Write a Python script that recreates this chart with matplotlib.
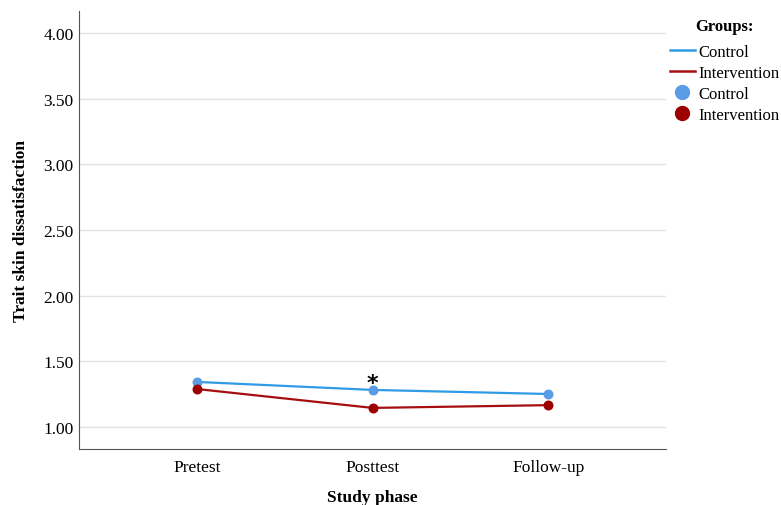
import matplotlib.pyplot as plt
from matplotlib.lines import Line2D

plt.rcParams['font.family'] = ['Liberation Serif', 'DejaVu Serif']

phases = ["Pretest", "Posttest", "Follow-up"]
control = [1.343, 1.282, 1.251]
intervention = [1.289, 1.145, 1.166]
yticks = [1.0, 1.5, 2.0, 2.5, 3.0, 3.5, 4.0]


def main():
    fig = plt.figure(figsize=(7.81, 5.06), dpi=100)
    ax = fig.add_axes([79 / 781, 1 - 450 / 506, 587 / 781, 438 / 506])

    x = list(range(len(phases)))
    ax.plot(x, control, "-", color="#2f9be6", linewidth=1.6, zorder=3)
    ax.plot(x, intervention, "-", color="#a50f0f", linewidth=1.6, zorder=3)
    ax.scatter(x, control, s=38, color="#5a9be6", zorder=4)
    ax.scatter(x, intervention, s=38, color="#9c0000", zorder=4)

    ax.text(1, control[1] + 0.055, "*", ha="center", va="center",
            fontsize=16, fontweight="bold", family="DejaVu Sans")

    ax.set_xlim(-0.67, 2.67)
    ax.set_ylim(0.832, 4.168)
    ax.set_xticks(x)
    ax.set_xticklabels(phases, fontsize=12.5)
    ax.set_yticks(yticks)
    ax.set_yticklabels([f"{v:.2f}" for v in yticks], fontsize=12.5)
    ax.tick_params(length=0, pad=4)
    ax.tick_params(axis="x", pad=7)
    ax.grid(axis="y", color="#e3e3e3", linewidth=1)
    ax.set_axisbelow(True)

    for side in ["top", "right"]:
        ax.spines[side].set_visible(False)
    ax.spines["left"].set_color("#555555")
    ax.spines["bottom"].set_color("#555555")

    ax.set_xlabel("Study phase", fontsize=12.5, fontweight="bold", labelpad=10)
    ax.set_ylabel("Trait skin dissatisfaction", fontsize=12.5, fontweight="bold",
                  labelpad=10)

    fig.text(725 / 781, 1 - 27 / 506, "Groups:", ha="center", va="center",
             fontsize=12, fontweight="bold")

    handles = [
        Line2D([], [], color="#2f9be6", linewidth=1.8),
        Line2D([], [], color="#a50f0f", linewidth=1.8),
        Line2D([], [], marker="o", linestyle="", color="#5a9be6", markersize=10),
        Line2D([], [], marker="o", linestyle="", color="#9c0000", markersize=10),
    ]
    labels = ["Control", "Intervention", "Control", "Intervention"]
    fig.legend(handles, labels, loc="upper left",
               bbox_to_anchor=(663 / 781, 1 - 38 / 506), frameon=False,
               fontsize=12, handlelength=1.5, handletextpad=0.25,
               labelspacing=0.3, borderaxespad=0)

    fig.savefig("out.png", dpi=100)


if __name__ == '__main__':
    main()
